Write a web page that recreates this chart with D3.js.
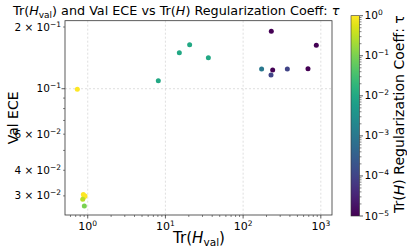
<!DOCTYPE html>
<html>
<head>
<meta charset="utf-8">
<script src="https://cdn.jsdelivr.net/npm/d3@7"></script>
<style>
  body { margin: 0; background: #fff; }
  text { font-family: "DejaVu Sans", sans-serif; fill: #000; }
</style>
</head>
<body>
<svg id="chart" width="407" height="247"></svg>
<script>
// values
var trH    = [0.735, 8.1, 15.1, 20.5, 35.7, 173, 230.6, 875, 240, 228.6, 370.7, 684, 0.878, 0.923, 0.90, 0.863, 0.904];
var valEce = [0.0993, 0.1094, 0.1498, 0.164, 0.1416, 0.1248, 0.1905, 0.1628, 0.1234, 0.1166, 0.1248, 0.1252, 0.0305, 0.0300, 0.0296, 0.0289, 0.0268];
var tau    = [1, 1e-2, 1e-2, 1e-2, 1e-2, 1e-3, 1e-5, 1e-5, 1e-5, 1e-4, 1e-4, 1e-5, 1, 1, 1, 0.3, 0.1];

var xTicks = [1, 10, 100, 1000];
var yTicks = [0.03, 0.04, 0.06, 0.1, 0.2];
var yTickLabels = [["3 \u00d7 10", "\u22122"], ["4 \u00d7 10", "\u22122"], ["6 \u00d7 10", "\u22122"], ["10", "\u22121"], ["2 \u00d7 10", "\u22121"]];
var cTicks = [1, 1e-1, 1e-2, 1e-3, 1e-4, 1e-5];

var svg = d3.select('#chart');
var pLeft = 65, pRight = 332, pTop = 20.7, pBottom = 215;

var x = d3.scaleLog().domain([0.51, 1393]).range([pLeft, pRight]);
var y = d3.scaleLog().domain([0.0242, 0.2147]).range([pBottom, pTop]);
var c = d3.scaleLog().domain([1e-5, 1]).range([0, 1]);

// shrink/grow a text's font so it spans the width seen in the picture
function fitText(sel, base, width) {
  var w = sel.node().getComputedTextLength();
  sel.style('font-size', (base * width / w) + 'px');
}

// grid
svg.selectAll('.gx').data(xTicks).enter().append('line')
  .attr('x1', d => x(d)).attr('x2', d => x(d)).attr('y1', pTop).attr('y2', pBottom)
  .attr('stroke', '#b0b0b0').attr('stroke-opacity', 0.5).attr('stroke-width', 0.8).attr('stroke-dasharray', '2,2');
svg.append('line')
  .attr('x1', pLeft).attr('x2', pRight).attr('y1', y(0.1)).attr('y2', y(0.1))
  .attr('stroke', '#b0b0b0').attr('stroke-opacity', 0.5).attr('stroke-width', 0.8).attr('stroke-dasharray', '2,2');

// minor ticks
var xMinor = [];
[0.1, 1, 10, 100, 1000].forEach(b => { for (var k = 2; k < 10; k++) { var v = b * k; if (v > 0.51 && v < 1393) xMinor.push(v); } });
svg.selectAll('.xm').data(xMinor).enter().append('line')
  .attr('x1', d => x(d)).attr('x2', d => x(d)).attr('y1', pBottom).attr('y2', pBottom + 2)
  .attr('stroke', '#333').attr('stroke-width', 0.6);
var yMinor = [0.03, 0.04, 0.05, 0.06, 0.07, 0.08, 0.09, 0.2];
svg.selectAll('.ym').data(yMinor).enter().append('line')
  .attr('x1', pLeft - 2).attr('x2', pLeft).attr('y1', d => y(d)).attr('y2', d => y(d))
  .attr('stroke', '#333').attr('stroke-width', 0.6);

// major ticks
svg.selectAll('.xt').data(xTicks).enter().append('line')
  .attr('x1', d => x(d)).attr('x2', d => x(d)).attr('y1', pBottom).attr('y2', pBottom + 3.5)
  .attr('stroke', '#333').attr('stroke-width', 0.8);
svg.append('line').attr('x1', pLeft - 3.5).attr('x2', pLeft).attr('y1', y(0.1)).attr('y2', y(0.1))
  .attr('stroke', '#333').attr('stroke-width', 0.8);

// x tick labels
var xl = svg.selectAll('.xl').data(xTicks).enter().append('text')
  .attr('x', d => x(d)).attr('y', pBottom + 15).attr('text-anchor', 'middle').style('font-size', '11px');
xl.append('tspan').text('10');
xl.append('tspan').attr('dy', -4.5).style('font-size', '7.5px').text(d => Math.round(Math.log10(d)));

// y tick labels
var yl = svg.selectAll('.yl').data(yTicks).enter().append('text')
  .attr('x', pLeft - 4).attr('y', d => y(d) + 3.5).attr('text-anchor', 'end').style('font-size', '10.5px');
yl.append('tspan').text((d, i) => yTickLabels[i][0]);
yl.append('tspan').attr('dy', -4).style('font-size', '7.5px').text((d, i) => yTickLabels[i][1]);

// points
svg.selectAll('.pt').data(trH).enter().append('circle')
  .attr('cx', d => x(d)).attr('cy', (d, i) => y(valEce[i])).attr('r', 2.5)
  .attr('fill', (d, i) => d3.interpolateViridis(c(tau[i])));

// frame
svg.append('rect').attr('x', pLeft).attr('y', pTop).attr('width', pRight - pLeft).attr('height', pBottom - pTop)
  .attr('fill', 'none').attr('stroke', '#333').attr('stroke-width', 0.8);

// title
var t = svg.append('text').attr('x', 13).attr('y', 15).style('font-size', '14px');
t.append('tspan').text('Tr(');
t.append('tspan').style('font-style', 'italic').text('H');
t.append('tspan').attr('dy', 3).style('font-size', '0.7em').text('val');
t.append('tspan').attr('dy', -3).text(') and Val ECE vs Tr(');
t.append('tspan').style('font-style', 'italic').text('H');
t.append('tspan').text(') Regularization Coeff: ');
t.append('tspan').style('font-style', 'italic').text('\u03c4');
fitText(t, 14, 327);

// axis labels
var xlab = svg.append('text').attr('x', 173).attr('y', 243).style('font-size', '14px');
xlab.append('tspan').text('Tr(');
xlab.append('tspan').style('font-style', 'italic').text('H');
xlab.append('tspan').attr('dy', 3).style('font-size', '0.7em').text('val');
xlab.append('tspan').attr('dy', -3).text(')');
fitText(xlab, 14, 52);

svg.append('text').attr('transform', 'translate(18,' + ((pTop + pBottom) / 2) + ') rotate(-90)')
  .attr('text-anchor', 'middle').style('font-size', '14px').text('Val ECE');

// colorbar
var cbX = 351, cbW = 8.5, cbTop = 15.7, cbBot = 216;
var cy = d3.scaleLog().domain([1e-5, 1]).range([cbBot, cbTop]);
var grad = svg.append('defs').append('linearGradient').attr('id', 'vir')
  .attr('x1', 0).attr('y1', 1).attr('x2', 0).attr('y2', 0);
d3.range(0, 1.0001, 0.05).forEach(s => {
  grad.append('stop').attr('offset', s).attr('stop-color', d3.interpolateViridis(s));
});
svg.append('rect').attr('x', cbX).attr('y', cbTop).attr('width', cbW).attr('height', cbBot - cbTop)
  .attr('fill', 'url(#vir)').attr('stroke', '#333').attr('stroke-width', 0.6);

var cMinor = [];
[1e-5, 1e-4, 1e-3, 1e-2, 1e-1].forEach(b => { for (var k = 2; k < 10; k++) cMinor.push(b * k); });
svg.selectAll('.cm').data(cMinor).enter().append('line')
  .attr('x1', cbX + cbW).attr('x2', cbX + cbW + 2).attr('y1', d => cy(d)).attr('y2', d => cy(d))
  .attr('stroke', '#333').attr('stroke-width', 0.6);
svg.selectAll('.ct').data(cTicks).enter().append('line')
  .attr('x1', cbX + cbW).attr('x2', cbX + cbW + 3.5).attr('y1', d => cy(d)).attr('y2', d => cy(d))
  .attr('stroke', '#333').attr('stroke-width', 0.8);
var cl = svg.selectAll('.cl').data(cTicks).enter().append('text')
  .attr('x', cbX + cbW + 5).attr('y', d => cy(d) + 3.5).style('font-size', '10.5px');
cl.append('tspan').text('10');
cl.append('tspan').attr('dy', -4).style('font-size', '7.5px').text(d => Math.round(Math.log10(d)) === 0 ? '0' : '\u2212' + Math.abs(Math.round(Math.log10(d))));

var clab = svg.append('text').attr('transform', 'translate(404,213) rotate(-90)')
  .style('font-size', '14px');
clab.append('tspan').text('Tr(');
clab.append('tspan').style('font-style', 'italic').text('H');
clab.append('tspan').text(') Regularization Coeff: ');
clab.append('tspan').text('\u03c4');
fitText(clab, 14, 198);
</script>
</body>
</html>
